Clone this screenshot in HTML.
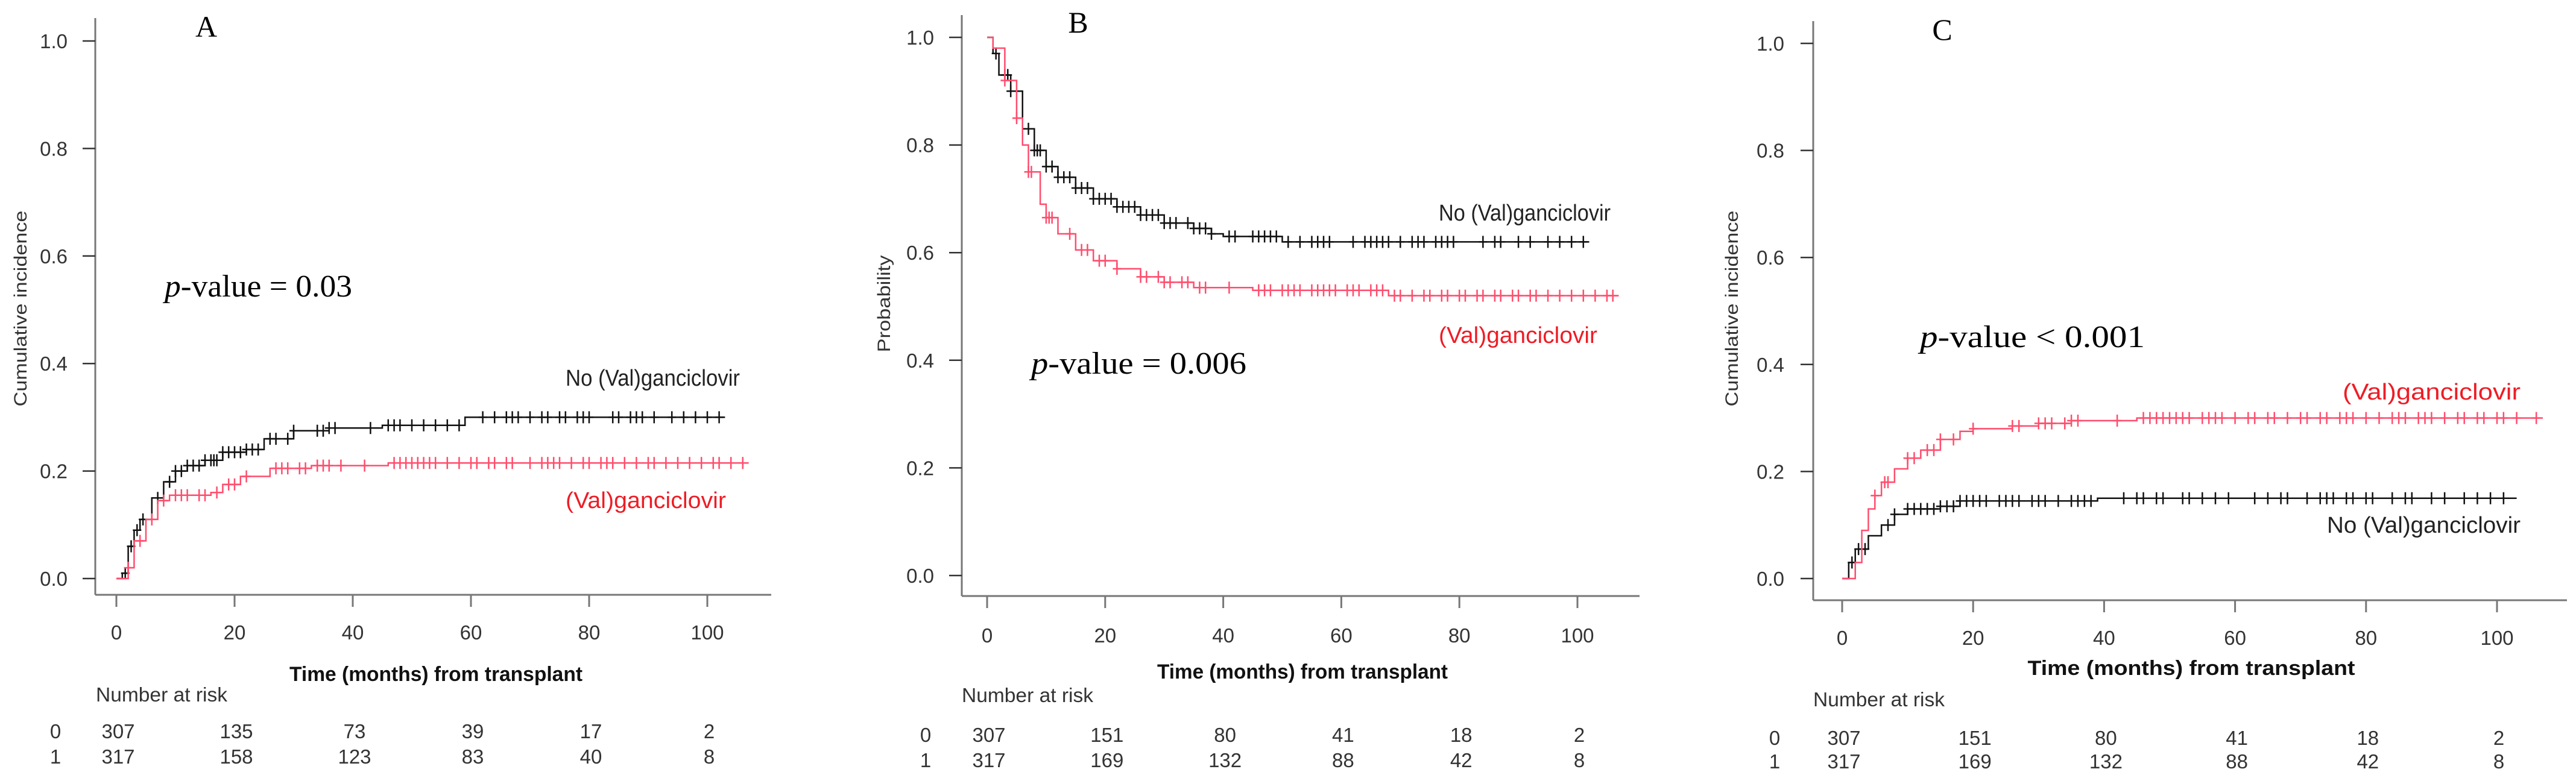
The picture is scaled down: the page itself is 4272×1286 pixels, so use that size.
<!DOCTYPE html>
<html><head><meta charset="utf-8"><style>
html,body{margin:0;padding:0;background:#fff;}
svg{display:block;}
</style></head><body>
<svg id="fig" width="4272" height="1286" viewBox="0 0 4272 1286" xmlns="http://www.w3.org/2000/svg"></svg>
<script>
// ---- data ----
const xTicks = [0, 20, 40, 60, 80, 100];
const yTicks = [0, 0.2, 0.4, 0.6, 0.8, 1.0];
const yTickLabels = ["0.0", "0.2", "0.4", "0.6", "0.8", "1.0"];
const riskA0 = [307, 135, 73, 39, 17, 2];
const riskA1 = [317, 158, 123, 83, 40, 8];
const riskB0 = [307, 151, 80, 41, 18, 2];
const riskB1 = [317, 169, 132, 88, 42, 8];
const riskC0 = [307, 151, 80, 41, 18, 2];
const riskC1 = [317, 169, 132, 88, 42, 8];

const aNoT = [0, 1, 2, 3, 4, 6, 8, 10, 12, 15, 18, 22, 25, 30, 36, 45, 59, 103];
const aNoV = [0, 0.01, 0.06, 0.09, 0.11, 0.15, 0.18, 0.20, 0.21, 0.22, 0.235, 0.24, 0.26, 0.275, 0.28, 0.285, 0.30, 0.30];
const aNoCens = [1.5, 2.5, 3.5, 4.5, 7, 9, 10, 11, 12, 13, 14, 15, 16, 16.5, 17, 18, 19, 20, 21, 22, 23, 24, 26, 27, 29, 30, 34, 35, 36, 37, 43, 46, 47, 48, 50, 52, 54, 56, 58, 62, 64, 66, 67, 68, 70, 72, 73, 75, 76, 78, 79, 80, 84, 85, 87, 88, 89, 91, 94, 96, 98, 100, 102];
const aValT = [0, 2, 3, 5, 7, 9, 16, 18, 21, 26, 33, 46, 107];
const aValV = [0, 0.02, 0.07, 0.11, 0.145, 0.155, 0.16, 0.175, 0.19, 0.205, 0.21, 0.215, 0.215];
const aValCens = [2, 4, 6, 8, 10, 11, 12, 14, 15, 17, 19, 20, 22, 27, 28, 29, 31, 32, 34, 35, 36, 38, 42, 47, 48, 49, 50, 51, 52, 53, 54, 56, 58, 60, 61, 63, 64, 66, 67, 70, 72, 73, 74, 75, 77, 79, 80, 82, 83, 84, 86, 88, 90, 91, 93, 95, 97, 99, 101, 102, 104, 106];

const bNoT = [0, 1, 2, 4, 6, 8, 10, 12, 15, 18, 22, 26, 30, 35, 38, 40, 50, 102];
const bNoV = [1, 0.97, 0.93, 0.90, 0.83, 0.79, 0.76, 0.74, 0.72, 0.70, 0.685, 0.67, 0.655, 0.645, 0.635, 0.63, 0.62, 0.62];
const bNoCens = [1.5, 3, 3.5, 4, 7, 8, 8.5, 9, 10, 11, 12, 13, 14, 15, 16, 17, 18, 19, 20, 21, 22, 23, 24, 25, 26, 27, 28, 29, 30, 31, 32, 34, 35, 36, 37, 38, 41, 42, 45, 46, 47, 48, 49, 51, 53, 55, 56, 57, 58, 62, 64, 65, 66, 67, 68, 70, 72, 73, 74, 76, 77, 78, 79, 84, 86, 87, 90, 92, 95, 97, 99, 101];
const bValT = [0, 1, 3, 5, 6, 7, 9, 10, 12, 15, 18, 22, 26, 30, 35, 45, 68, 107];
const bValV = [1, 0.98, 0.92, 0.85, 0.80, 0.75, 0.69, 0.665, 0.635, 0.605, 0.585, 0.57, 0.555, 0.545, 0.535, 0.53, 0.52, 0.52];
const bValCens = [3, 5, 7, 7.5, 10, 10.5, 11, 14, 16, 17, 19, 20, 22, 26, 27, 29, 30, 31, 33, 34, 36, 37, 41, 46, 47, 48, 50, 51, 52, 53, 55, 56, 57, 58, 59, 61, 62, 63, 65, 66, 67, 69, 70, 72, 74, 75, 77, 78, 80, 81, 83, 84, 86, 87, 89, 90, 92, 93, 95, 97, 99, 101, 103, 105, 106];

const cValT = [0, 1, 2, 3, 4, 5, 6, 8, 10, 12, 15, 18, 20, 26, 30, 35, 45, 107];
const cValV = [0, 0, 0.03, 0.09, 0.13, 0.155, 0.18, 0.205, 0.225, 0.24, 0.26, 0.275, 0.28, 0.285, 0.29, 0.295, 0.30, 0.30];
const cValCens = [5, 6.5, 7, 10, 11, 13, 14, 15, 17, 20, 26, 27, 30, 31, 32, 34, 35, 36, 42, 46, 47, 48, 49, 50, 51, 52, 53, 55, 56, 57, 58, 60, 62, 63, 65, 66, 68, 70, 71, 73, 74, 76, 77, 78, 80, 82, 84, 85, 86, 88, 89, 90, 92, 94, 95, 97, 98, 100, 101, 103, 106];
const cNoT = [0, 1, 2, 4, 6, 8, 10, 15, 18, 39, 103];
const cNoV = [0, 0.03, 0.055, 0.08, 0.10, 0.12, 0.13, 0.135, 0.145, 0.15, 0.15];
const cNoCens = [1.5, 2.5, 3.5, 7, 8, 10, 11, 12, 13, 14, 15, 16, 17, 18, 19, 20, 21, 22, 24, 25, 26, 27, 29, 30, 31, 33, 35, 36, 37, 38, 43, 45, 46, 48, 49, 52, 53, 55, 57, 59, 63, 65, 67, 68, 71, 73, 74, 75, 77, 78, 80, 81, 84, 86, 87, 90, 92, 95, 97, 99, 101];

const NS = "http://www.w3.org/2000/svg";
const svg = document.getElementById("fig");
const BLACK = "#111", RED = "#ff4d6d", LABRED = "#ee1c25";

function el(tag, attrs, parent, text) {
  const e = document.createElementNS(NS, tag);
  for (const k in attrs) e.setAttribute(k, attrs[k]);
  if (text !== undefined) e.textContent = text;
  (parent || svg).appendChild(e);
  return e;
}
function stepAt(T, V, t) { let v = V[0]; for (let i = 0; i < T.length; i++) { if (T[i] <= t) v = V[i]; } return v; }

function panel(p) {
  const g = el("g", {});
  
  
  const sx = t => p.x0 + (p.x100 - p.x0) * t / 100;
  const sy = v => p.y0 + (p.y1 - p.y0) * v;
  // axes
  const ya = el("line", {x1: p.ax, y1: p.top, x2: p.ax, y2: p.bot, stroke: "#777", "stroke-width": 3}, g);
  
  
  const xa = el("line", {x1: p.ax, y1: p.bot, x2: p.right, y2: p.bot, stroke: "#777", "stroke-width": 3}, g);
  
  
  yTicks.forEach((v, i) => {
    el("line", {x1: p.ax - 21, y1: sy(v), x2: p.ax, y2: sy(v), stroke: "#333", "stroke-width": 2.5}, g);
    const t = el("text", {x: p.ytl, y: sy(v) + 12, "text-anchor": "end", "font-size": 33, fill: "#333", "font-family": "Liberation Sans, sans-serif"}, g, yTickLabels[i]);
    
    
  });
  xTicks.forEach(v => {
    el("line", {x1: sx(v), y1: p.bot, x2: sx(v), y2: p.bot + 20, stroke: "#777", "stroke-width": 3}, g);
    const t = el("text", {x: sx(v), y: p.xtl, "text-anchor": "middle", "font-size": 33, fill: "#333", "font-family": "Liberation Sans, sans-serif"}, g, String(v));
    
    
  });
  // curves
  p.series.forEach(s => {
    let d = "M" + sx(s.T[0]) + "," + sy(s.V[0]);
    for (let i = 1; i < s.T.length; i++) d += " H" + sx(s.T[i]) + " V" + sy(s.V[i]);
    const path = el("path", {d: d, fill: "none", stroke: s.color, "stroke-width": 2.5}, g);
    
    
    s.C.forEach(t => {
      const x = sx(t), y = sy(stepAt(s.T, s.V, t));
      const m = el("path", {d: `M${x},${y - 10} V${y + 10} M${x - 7},${y} H${x + 7}`, stroke: s.color, "stroke-width": 2.5, fill: "none"}, g);
      
      
    });
  });
  // texts
  const L = el("text", {x: p.letter[0], y: p.letter[1], "text-anchor": "middle", "font-size": 50, "font-family": "Liberation Serif, serif", fill: "#000"}, g, p.letterText);
  
  
  const pv = el("text", {x: p.pv[0], y: p.pv[1], "font-size": 52, "font-family": "Liberation Serif, serif", fill: "#000", textLength: p.pv[2], lengthAdjust: "spacingAndGlyphs"}, g);
  
  
  el("tspan", {"font-style": "italic"}, pv, "p");
  el("tspan", {}, pv, p.pvText);
  p.labels.forEach(l => {
    const t = el("text", {x: l.x, y: l.y, "text-anchor": l.anchor || "start", "font-size": 38, fill: l.color, "font-family": "Liberation Sans, sans-serif", textLength: l.w, lengthAdjust: "spacingAndGlyphs"}, g, l.text);
    
    
  });
  const yt = el("text", {x: 0, y: 0, transform: `translate(${p.yt[0]},${p.yt[1]}) rotate(-90)`, "text-anchor": "middle", "font-size": 30, fill: "#333", "font-family": "Liberation Sans, sans-serif", textLength: p.yt[2], lengthAdjust: "spacingAndGlyphs"}, g, p.ytText);
  
  
  const xt = el("text", {x: p.xt[0], y: p.xt[1], "text-anchor": "middle", "font-size": 34, "font-weight": "bold", fill: "#111", "font-family": "Liberation Sans, sans-serif", textLength: p.xt[2], lengthAdjust: "spacingAndGlyphs"}, g, "Time (months) from transplant");
  
  
  const nr = el("text", {x: p.nar[0], y: p.nar[1], "font-size": 33, fill: "#333", "font-family": "Liberation Sans, sans-serif", textLength: 218, lengthAdjust: "spacingAndGlyphs"}, g, "Number at risk");
  
  
  [[p.r0, p.rows[0], "0"], [p.r1, p.rows[1], "1"]].forEach(r => {
    const lab = el("text", {x: p.rowLab, y: r[1], "text-anchor": "middle", "font-size": 33, fill: "#333", "font-family": "Liberation Sans, sans-serif"}, g, r[2]);
    
    
    r[0].forEach((n, i) => {
      const t = el("text", {x: sx(xTicks[i]) + 3, y: r[1], "text-anchor": "middle", "font-size": 33, fill: "#333", "font-family": "Liberation Sans, sans-serif"}, g, String(n));
      
      
    });
  });
}

panel({name: "panel-a", ax: 158, top: 30, bot: 987, right: 1279, x0: 193, x100: 1173, y0: 960, y1: 68,
  ytl: 112, xtl: 1061, letter: [342, 61], letterText: "A", pv: [273, 492, 311], pvText: "-value = 0.03",
  yt: [44, 512, 325], ytText: "Cumulative incidence", xt: [723, 1130, 486], nar: [159, 1164],
  rows: [1225, 1267], rowLab: 92, r0: riskA0, r1: riskA1,
  series: [{name: "no-valganciclovir", T: aNoT, V: aNoV, C: aNoCens, color: BLACK},
           {name: "valganciclovir", T: aValT, V: aValV, C: aValCens, color: RED}],
  labels: [{name: "no-valganciclovir-label", text: "No (Val)ganciclovir", x: 938, y: 640, w: 289, color: "#222"},
           {name: "valganciclovir-label", text: "(Val)ganciclovir", x: 938, y: 843, w: 266, color: LABRED}]});

panel({name: "panel-b", ax: 1595, top: 25, bot: 989, right: 2719, x0: 1637, x100: 2616, y0: 955, y1: 62,
  ytl: 1549, xtl: 1066, letter: [1788, 54], letterText: "B", pv: [1710, 620, 357], pvText: "-value = 0.006",
  yt: [1476, 504, 161], ytText: "Probability", xt: [2160, 1126, 482], nar: [1595, 1165],
  rows: [1231, 1273], rowLab: 1535, r0: riskB0, r1: riskB1,
  series: [{name: "no-valganciclovir", T: bNoT, V: bNoV, C: bNoCens, color: BLACK},
           {name: "valganciclovir", T: bValT, V: bValV, C: bValCens, color: RED}],
  labels: [{name: "no-valganciclovir-label", text: "No (Val)ganciclovir", x: 2386, y: 366, w: 285, color: "#222"},
           {name: "valganciclovir-label", text: "(Val)ganciclovir", x: 2386, y: 569, w: 263, color: LABRED}]});

panel({name: "panel-c", ax: 3007, top: 35, bot: 996, right: 4257, x0: 3055, x100: 4141, y0: 960, y1: 72,
  ytl: 2959, xtl: 1070, letter: [3221, 66], letterText: "C", pv: [3184, 576, 373], pvText: "-value < 0.001",
  yt: [2882, 512, 325], ytText: "Cumulative incidence", xt: [3634, 1120, 543], nar: [3007, 1172],
  rows: [1236, 1275], rowLab: 2943, r0: riskC0, r1: riskC1,
  series: [{name: "no-valganciclovir", T: cNoT, V: cNoV, C: cNoCens, color: BLACK},
           {name: "valganciclovir", T: cValT, V: cValV, C: cValCens, color: RED}],
  labels: [{name: "valganciclovir-label", text: "(Val)ganciclovir", x: 4180, y: 663, w: 295, color: LABRED, anchor: "end"},
           {name: "no-valganciclovir-label", text: "No (Val)ganciclovir", x: 4180, y: 884, w: 321, color: "#222", anchor: "end"}]});
</script>
</body></html>
